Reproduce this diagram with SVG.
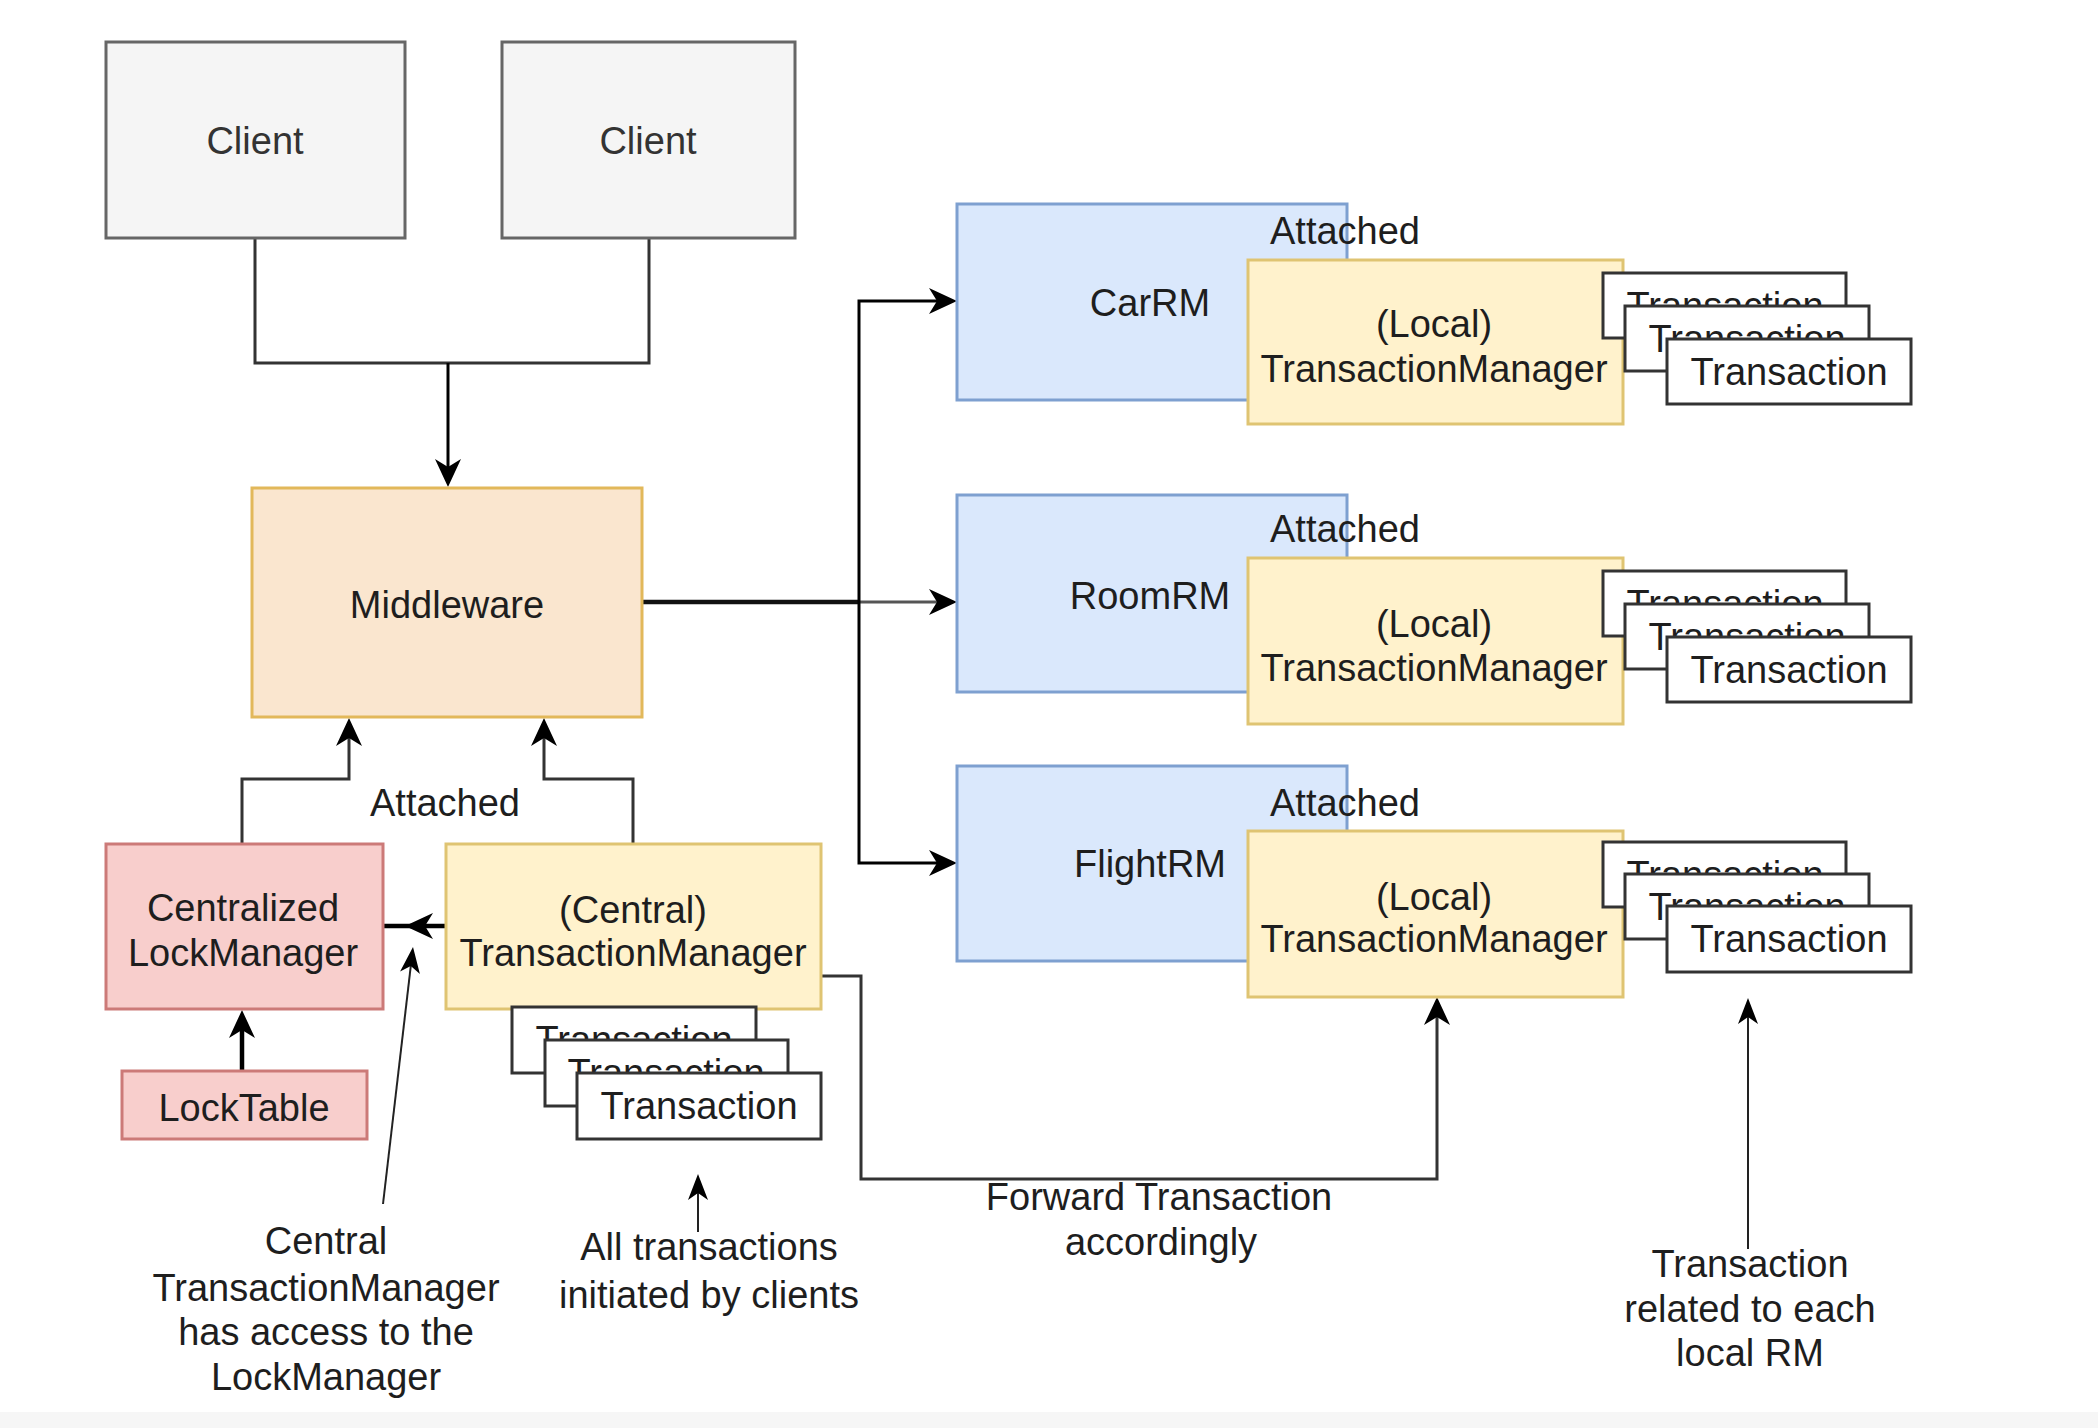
<svg xmlns="http://www.w3.org/2000/svg" width="2098" height="1428" viewBox="0 0 2098 1428">
<defs>
<style>
text{font-family:"Liberation Sans",Arial,Helvetica,sans-serif;font-size:38px;fill:#1e1e1e;text-anchor:middle}
.ct{fill:#333}
.client{fill:#f5f5f5;stroke:#666;stroke-width:3}
.mw{fill:#fae6cf;stroke:#e2b85a;stroke-width:3}
.rm{fill:#dae8fc;stroke:#7ea0d0;stroke-width:3}
.tm{fill:#fff2cc;stroke:#dfc472;stroke-width:3}
.lock{fill:#f8cecc;stroke:#cc7a78;stroke-width:3}
.tx{fill:#fff;stroke:#333;stroke-width:3}
.ln{fill:none;stroke:#333;stroke-width:3}
.bk{fill:none;stroke:#000;stroke-width:3}
.thin{fill:none;stroke:#222;stroke-width:2}
.hd{fill:#000;stroke:none}
</style>
</defs>
<rect x="0" y="0" width="2098" height="1428" fill="#fff"/>
<rect x="0" y="1412" width="2098" height="16" fill="#f6f6f6"/>

<g id="connectors">
<path class="ln" d="M255,238 V363 H649 V238"/>
<path class="bk" d="M448,363 V473"/>
<path class="ln" d="M242,844 V779 H349 V732"/>
<path class="ln" d="M633,844 V779 H544 V732"/>
<path fill="none" stroke="#111" stroke-width="4.5" d="M642,602 H859"/>
<path fill="none" stroke="#555" stroke-width="3" d="M859,602 H943"/>
<path class="bk" d="M859,602 V301 H943"/>
<path class="bk" d="M859,602 V863 H943"/>
<path fill="none" stroke="#000" stroke-width="4.5" d="M242,1071 V1024"/>
<path fill="none" stroke="#000" stroke-width="4.5" d="M446,926 H383"/>
<path class="ln" d="M821,976 H861 V1179 H1437 V1011"/>
<path class="thin" d="M383,1204 L411.6,959"/>
<path class="thin" d="M698,1232 V1186"/>
<path class="thin" d="M1748,1249 V1010"/>
<path class="hd" d="M448,487 L435,459 L448,467 L461,459 Z"/>
<path class="hd" d="M349,718 L336,746 L349,738 L362,746 Z"/>
<path class="hd" d="M544,718 L531,746 L544,738 L557,746 Z"/>
<path class="hd" d="M957,301 L929,288 L937,301 L929,314 Z"/>
<path class="hd" d="M957,602 L929,589 L937,602 L929,615 Z"/>
<path class="hd" d="M957,863 L929,850 L937,863 L929,876 Z"/>
<path class="hd" d="M242,1010 L229,1038 L242,1030 L255,1038 Z"/>
<path class="hd" d="M405,926 L433,913 L425,926 L433,939 Z"/>
<path class="hd" d="M1437,997 L1424,1025 L1437,1017 L1450,1025 Z"/>
<path class="hd" d="M413,947 L419.9,974 L410.8,965.9 L400.1,971.6 Z"/>
<path class="hd" d="M698,1174 L688,1200 L698,1193 L708,1200 Z"/>
<path class="hd" d="M1748,998 L1738,1024 L1748,1017 L1758,1024 Z"/>
</g>

<g id="client1">
<rect class="client" x="106" y="42" width="299" height="196"/>
<text class="ct" x="255" y="154">Client</text>
</g>
<g id="client2">
<rect class="client" x="502" y="42" width="293" height="196"/>
<text class="ct" x="648" y="154">Client</text>
</g>

<g id="middleware">
<rect class="mw" x="252" y="488" width="390" height="229"/>
<text x="447" y="618">Middleware</text>
</g>

<g id="carrm">
<rect class="rm" x="957" y="204" width="390" height="196"/>
<text x="1150" y="316">CarRM</text>
<text x="1345" y="244">Attached</text>
</g>
<g id="car-tm">
<rect class="tm" x="1248" y="260" width="375" height="164"/>
<text x="1434" y="337">(Local)</text>
<text x="1434" y="382">TransactionManager</text>
</g>
<g id="car-tx">
<rect class="tx" x="1603" y="273" width="243" height="65"/>
<text x="1725" y="319">Transaction</text>
<rect class="tx" x="1625" y="306" width="244" height="65"/>
<text x="1747" y="352">Transaction</text>
<rect class="tx" x="1667" y="339" width="244" height="65"/>
<text x="1789" y="385">Transaction</text>
</g>

<g id="roomrm">
<rect class="rm" x="957" y="495" width="390" height="197"/>
<text x="1150" y="609">RoomRM</text>
<text x="1345" y="542">Attached</text>
</g>
<g id="room-tm">
<rect class="tm" x="1248" y="558" width="375" height="166"/>
<text x="1434" y="637">(Local)</text>
<text x="1434" y="681">TransactionManager</text>
</g>
<g id="room-tx">
<rect class="tx" x="1603" y="571" width="243" height="65"/>
<text x="1725" y="617">Transaction</text>
<rect class="tx" x="1625" y="604" width="244" height="65"/>
<text x="1747" y="650">Transaction</text>
<rect class="tx" x="1667" y="637" width="244" height="65"/>
<text x="1789" y="683">Transaction</text>
</g>

<g id="flightrm">
<rect class="rm" x="957" y="766" width="390" height="195"/>
<text x="1150" y="877">FlightRM</text>
<text x="1345" y="816">Attached</text>
</g>
<g id="flight-tm">
<rect class="tm" x="1248" y="831" width="375" height="166"/>
<text x="1434" y="910">(Local)</text>
<text x="1434" y="952">TransactionManager</text>
</g>
<g id="flight-tx">
<rect class="tx" x="1603" y="842" width="243" height="65"/>
<text x="1725" y="888">Transaction</text>
<rect class="tx" x="1625" y="874" width="244" height="65"/>
<text x="1747" y="920">Transaction</text>
<rect class="tx" x="1667" y="906" width="244" height="66"/>
<text x="1789" y="952">Transaction</text>
</g>

<g id="attached-label">
<text x="445" y="816">Attached</text>
</g>

<g id="lockmanager">
<rect class="lock" x="106" y="844" width="277" height="165"/>
<text x="243" y="921">Centralized</text>
<text x="243" y="966">LockManager</text>
</g>
<g id="locktable">
<rect class="lock" x="122" y="1071" width="245" height="68"/>
<text x="244" y="1121">LockTable</text>
</g>

<g id="central-tm">
<rect class="tm" x="446" y="844" width="375" height="165"/>
<text x="633" y="923">(Central)</text>
<text x="633" y="966">TransactionManager</text>
</g>
<g id="central-tx">
<rect class="tx" x="512" y="1007" width="244" height="66"/>
<text x="634" y="1053">Transaction</text>
<rect class="tx" x="545" y="1040" width="243" height="66"/>
<text x="666" y="1086">Transaction</text>
<rect class="tx" x="577" y="1073" width="244" height="66"/>
<text x="699" y="1119">Transaction</text>
</g>

<g id="note-central">
<text x="326" y="1254">Central</text>
<text x="326" y="1301">TransactionManager</text>
<text x="326" y="1345">has access to the</text>
<text x="326" y="1390">LockManager</text>
</g>
<g id="note-all">
<text x="709" y="1260">All transactions</text>
<text x="709" y="1308">initiated by clients</text>
</g>
<g id="note-forward">
<text x="1159" y="1210">Forward Transaction</text>
<text x="1161" y="1255">accordingly</text>
</g>
<g id="note-local">
<text x="1750" y="1277">Transaction</text>
<text x="1750" y="1322">related to each</text>
<text x="1750" y="1366">local RM</text>
</g>
</svg>
